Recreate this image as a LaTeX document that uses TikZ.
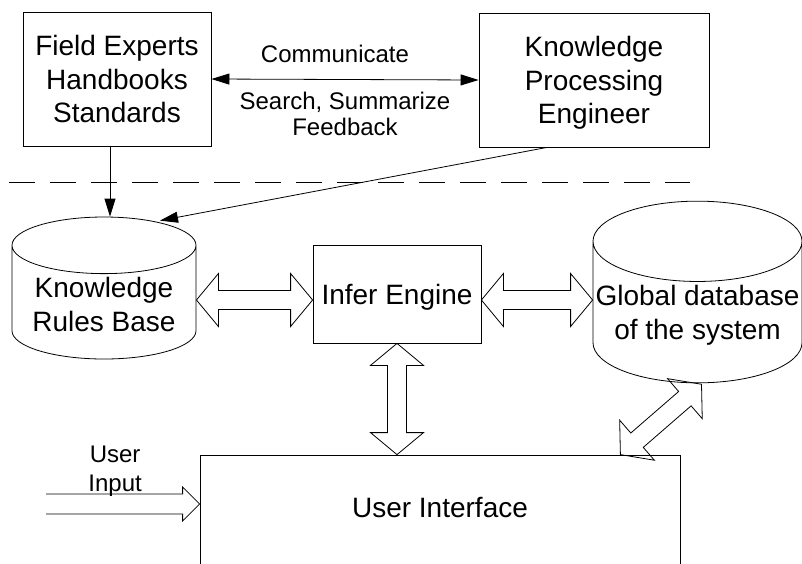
\documentclass[tikz,border=0pt]{standalone}
\usepackage{fontspec}
\setmainfont{Liberation Sans}
\usetikzlibrary{shapes.geometric,arrows.meta,calc}

\newcommand{\bigfont}{\fontsize{28}{33.6}\selectfont}
\newcommand{\smallfont}{\fontsize{24}{29}\selectfont}

\tikzset{
  >={Triangle[length=18pt,width=11pt]},
  box/.style={draw, rectangle, align=center, font=\bigfont, inner sep=0pt, text depth=0pt},
  store/.style={draw, cylinder, shape border rotate=90, aspect=0.39,
    align=center, font=\bigfont, inner xsep=1pt, anchor=shape center},
  hollow/.style={draw, line join=miter},
}

% hollow double arrow between two coordinates
\newcommand{\hollowboth}[2]{%
  \coordinate (ha) at ($(#1)!22pt!(#2)$);
  \coordinate (hb) at ($(#2)!22pt!(#1)$);
  \draw[hollow] (#1) -- ($(ha)!26.5pt!90:(#2)$) -- ($(ha)!9.5pt!90:(#2)$)
    -- ($(hb)!9.5pt!-90:(#1)$) -- ($(hb)!26.5pt!-90:(#1)$) -- (#2)
    -- ($(hb)!26.5pt!90:(#1)$) -- ($(hb)!9.5pt!90:(#1)$)
    -- ($(ha)!9.5pt!-90:(#2)$) -- ($(ha)!26.5pt!-90:(#2)$) -- cycle;}

% hollow single arrow with open tail
\newcommand{\hollowone}[2]{%
  \coordinate (hb) at ($(#2)!17pt!(#1)$);
  \draw[hollow] ($(#1)!10pt!-90:(#2)$) -- ($(hb)!10pt!90:(#1)$)
    -- ($(hb)!17pt!90:(#1)$) -- (#2) -- ($(hb)!17pt!-90:(#1)$)
    -- ($(hb)!10pt!-90:(#1)$) -- ($(#1)!10pt!90:(#2)$);}

\begin{document}
\begin{tikzpicture}[x=1pt, y=-1pt, line width=0.8pt]
  \useasboundingbox (0,0) rectangle (802,563);

  % upper part
  \node[box, minimum width=188pt, minimum height=134pt] (field) at (117,79)
    {Field Experts\\Handbooks\\Standards};
  \node[box, minimum width=230pt, minimum height=134pt] (kpe) at (594,80)
    {Knowledge\\Processing\\Engineer};
  \draw[<->] (field.east) -- (kpe.west)
    node[midway, above=13pt, xshift=-10pt, font=\smallfont] {Communicate}
    node[midway, below=9pt, align=center, font=\fontsize{24}{26}\selectfont]
      {Search, Summarize\\Feedback};

  \draw[dash pattern=on 26pt off 15pt] (9,182) -- (690,182);

  % system
  \node[store, minimum width=184pt, minimum height=141pt] (krb) at (104,288)
    {Knowledge\\Rules Base};
  \node[box, minimum width=168pt, minimum height=98pt] (infer) at (397,294)
    {Infer Engine};
  \node[store, minimum width=209pt, minimum height=156pt] (glob) at (697.5,292)
    {Global database\\of the system};
  \node[box, minimum width=480pt, minimum height=112pt, text depth=8pt] (ui) at (440,511)
    {User Interface};

  \draw[->] ([xshift=-7pt]field.south) -- ([xshift=6pt]krb.north);
  \draw[->] ([xshift=-47pt]kpe.south) -- ($(krb.north)+(56,4)$);

  % hollow arrows
  \coordinate (i1) at ($(infer.west)+(0,6)$);
  \coordinate (k1) at (krb.east |- i1);
  \hollowboth{k1}{i1}
  \coordinate (i2) at ($(infer.east)+(0,6)$);
  \coordinate (g1) at (glob.west |- i2);
  \hollowboth{i2}{g1}
  \coordinate (u1) at (infer.south |- ui.north);
  \hollowboth{infer.south}{u1}
  \coordinate (u2) at ($(ui.north east)+(-60,0)$);
  \coordinate (g2) at ($(glob.south)+(4,1)$);
  \hollowboth{u2}{g2}

  % user input
  \coordinate (inp) at (46,504);
  \coordinate (uiin) at (ui.west |- inp);
  \hollowone{inp}{uiin}
  \node[font=\smallfont, align=center, anchor=south, inner sep=0pt] (inlabel)
    at ($(inp)!0.45!(uiin)+(0,-7)$) {User\\Input};
\end{tikzpicture}
\end{document}
